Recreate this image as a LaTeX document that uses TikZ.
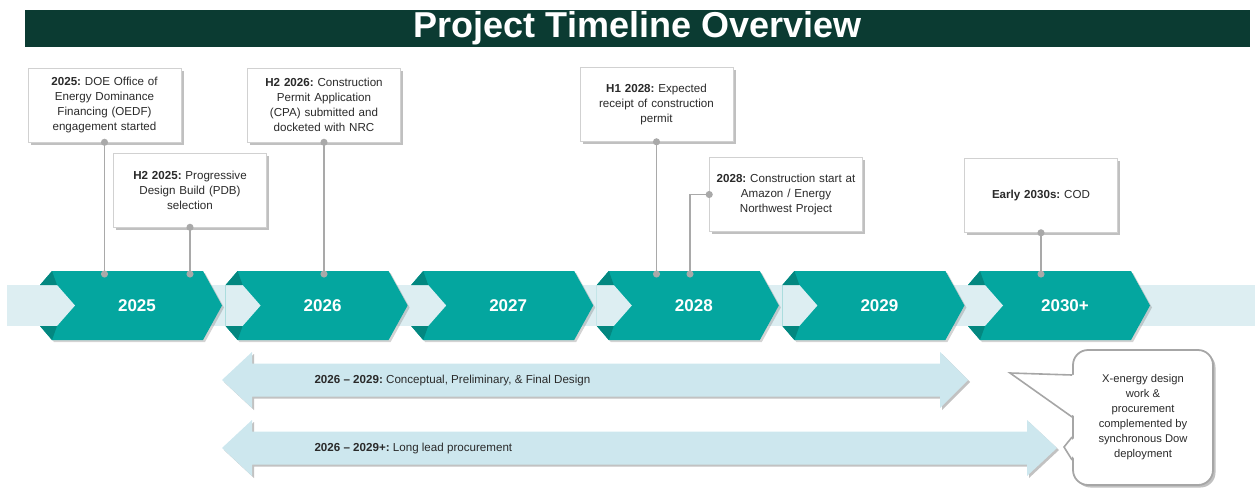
\documentclass[tikz,border=0pt]{standalone}
\usepackage{fontspec}
\setmainfont{Liberation Sans}
\usetikzlibrary{arrows.meta,calc,shadows}
\frenchspacing

\definecolor{titlegreen}{HTML}{0B3B32}
\definecolor{chevteal}{HTML}{04A69F}
\definecolor{foldteal}{HTML}{038780}
\definecolor{bandblue}{HTML}{DDEEF2}
\definecolor{spanblue}{HTML}{CDE7EE}
\definecolor{linkgray}{HTML}{A9A9A9}
\definecolor{boxtext}{HTML}{2A2A2A}

\newcommand{\boxfont}{\fontsize{11.6}{15}\selectfont}
\newcommand{\notefont}{\fontsize{11.2}{15}\selectfont}

% y centre, back and tip of the right head
\newcommand{\spanarrow}[3]{%
  \fill[spanfill] (222,#1) -- ({252},{#1-28}) -- ({252},{#1-16.5}) -- ({#2},{#1-16.5})
    -- ({#2},{#1-28}) -- (#3,#1) -- ({#2},{#1+28}) -- ({#2},{#1+16.5})
    -- ({252},{#1+16.5}) -- ({252},{#1+28}) -- cycle;}

\tikzset{
  softshadow/.style={drop shadow={shadow xshift=2.5pt, shadow yshift=-2.5pt, fill=black!55, opacity=.45}},
  titlebar/.style={fill=titlegreen, text=white, font=\fontsize{36}{38}\selectfont\bfseries,
    minimum width=1225pt, minimum height=37pt, inner sep=0pt},
  milestone/.style={draw=black!18, line width=0.6pt, fill=white, softshadow, text=boxtext,
    text width=146pt, align=center, minimum height=74pt, inner sep=3.5pt, font=\boxfont},
  chevron/.style={fill=chevteal, drop shadow={shadow xshift=2pt, shadow yshift=-2pt, fill=black!50, opacity=.35}},
  yearlabel/.style={text=white, font=\fontsize{17}{19}\selectfont\bfseries},
  link/.style={draw=linkgray, line width=1.6pt, {Circle[length=7pt]}-{Circle[length=7pt]},
    shorten <=-3.5pt, shorten >=-3.5pt},
  spanfill/.style={fill=spanblue, drop shadow={shadow xshift=2pt, shadow yshift=-2pt, fill=black!60, opacity=.4}},
  spanlabel/.style={anchor=west, text=boxtext, font=\boxfont},
  note/.style={draw=black!35, line width=1.8pt, fill=white, rounded corners=15pt, softshadow,
    minimum width=140pt, minimum height=135pt, align=center, text=boxtext, font=\notefont},
  notewedge/.style={draw=black!35, line width=1.6pt, line join=miter},
}

\begin{document}
\begin{tikzpicture}[x=1pt, y=-1pt, >=stealth]
  \useasboundingbox (0,0) rectangle (1255,488);

  \node[titlebar] (title) at (637.5,28.5) {Project Timeline Overview};

  % year band
  \fill[bandblue] (7,285) rectangle (1255,326);
  \foreach \yr [count=\i from 0] in {2025,2026,2027,2028,2029,2030+} {
    \begin{scope}[xshift=185.6*\i]
      \fill[chevron] (52,271) -- (203,271) -- (222,305.5) -- (203,340) -- (52,340)
        -- (40,326) -- (40,285) -- cycle;
      \fill[bandblue] (40,285) -- (57,285) -- (75,305.5) -- (57,326) -- (40,326) -- cycle;
      \fill[foldteal] (52,271) -- (40,285) -- (57,285) -- cycle;
      \fill[foldteal] (52,340) -- (40,326) -- (57,326) -- cycle;
      \node[yearlabel] (yr\i) at (137,305.5) {\yr};
    \end{scope}
  }

  % milestones
  \node[milestone] (oedf) at (104.5,105) {\textbf{2025:} DOE Office of\\Energy Dominance\\Financing (OEDF)\\engagement started};
  \node[milestone] (pdb) at (190,190) {\textbf{H2 2025:} Progressive\\Design Build (PDB)\\selection};
  \node[milestone] (cpa) at (324,105) {\textbf{H2 2026:} Construction\\Permit Application\\(CPA) submitted and\\docketed with NRC};
  \node[milestone] (permit) at (656.5,104.5) {\textbf{H1 2028:} Expected\\receipt of construction\\permit};
  \node[milestone] (start) at (786,194.5) {\textbf{2028:} Construction start at\\Amazon / Energy\\Northwest Project};
  \node[milestone] (cod) at (1041,195.5) {\textbf{Early 2030s:} COD};

  \coordinate (c1) at (oedf.south |- 0,274);
  \coordinate (c2) at (pdb.south |- 0,274);
  \coordinate (c3) at (cpa.south |- 0,274);
  \coordinate (c4) at (permit.south |- 0,274);
  \coordinate (c5) at (690,274);
  \coordinate (c6) at (cod.south |- 0,274);

  \draw[link] (oedf.south) -- (c1);
  \draw[link] (pdb.south) -- (c2);
  \draw[link] (cpa.south) -- (c3);
  \draw[link] (permit.south) -- (c4);
  \draw[link] (start.west) -| (c5);
  \draw[link] (cod.south) -- (c6);

  % spans
  \spanarrow{380}{940}{968}
  \spanarrow{448}{1027}{1057}
  \node[spanlabel] (design) at (311,380) {\textbf{2026 \textendash\ 2029:} Conceptual, Preliminary, \& Final Design};
  \node[spanlabel] (lead) at (311,448) {\textbf{2026 \textendash\ 2029+:} Long lead procurement};

  % callout
  \node[note] (note) at (1143,417.5) {X-energy design\\work \&\\procurement\\complemented by\\synchronous Dow\\deployment};
  \fill[white] (1075.5,375) -- (1010,373) -- (1075.5,417) -- cycle;
  \draw[notewedge] (note.west |- 0,375) -- (1010,373) -- (note.west |- 0,417);
  \fill[white] (1075.5,437) -- (1064,447) -- (1075.5,460) -- cycle;
  \draw[notewedge] (note.west |- 0,437) -- (1064,447) -- (note.west |- 0,460);
\end{tikzpicture}
\end{document}
